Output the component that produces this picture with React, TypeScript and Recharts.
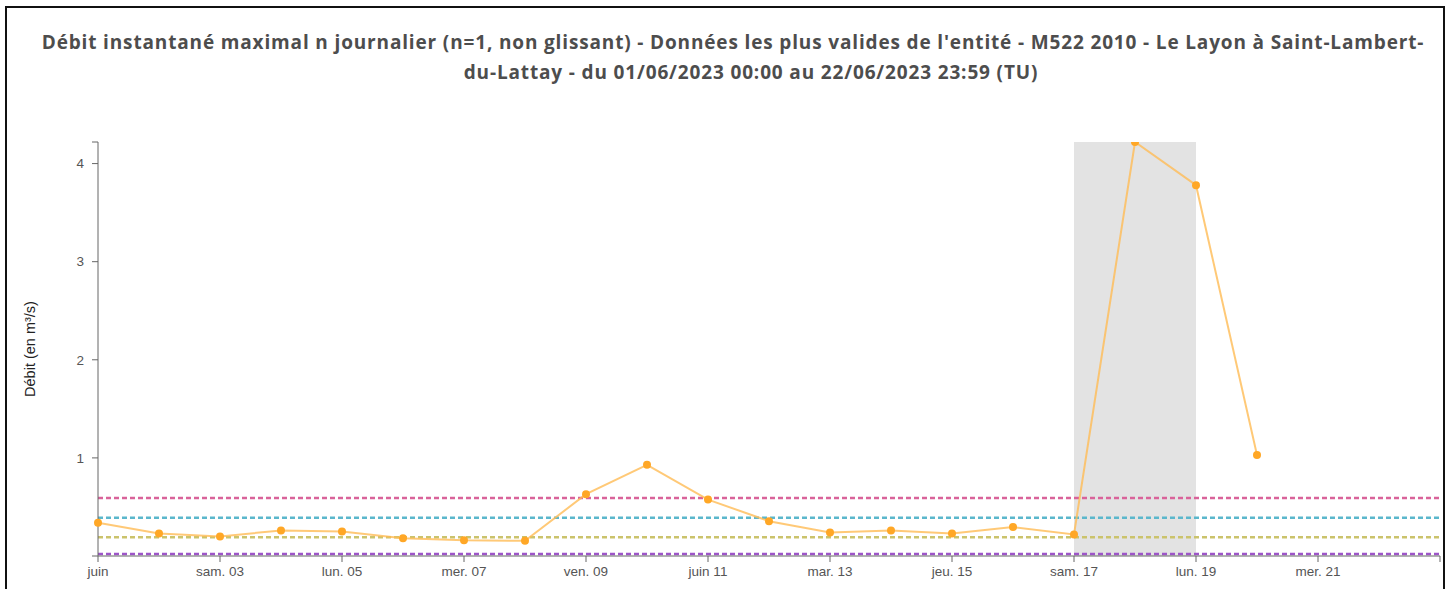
import * as React from "react";
import {
  Line,
  LineChart,
  ReferenceArea,
  ReferenceLine,
  XAxis,
  YAxis,
} from "recharts";

// jours de juin 2023 (00:00 TU)
const days = [1, 2, 3, 4, 5, 6, 7, 8, 9, 10, 11, 12, 13, 14, 15, 16, 17, 18, 19, 20];
// débit instantané maximal journalier (m3/s)
const debits = [
  0.34, 0.23, 0.2, 0.26, 0.25, 0.18, 0.16, 0.155, 0.63, 0.93, 0.575, 0.355, 0.24,
  0.26, 0.23, 0.295, 0.22, 4.22, 3.78, 1.03,
];

// la dernière graduation (23) est le bout de l'axe, sans libellé
const tickDays = [1, 3, 5, 7, 9, 11, 13, 15, 17, 19, 21, 23];
const tickLabels = [
  "juin",
  "sam. 03",
  "lun. 05",
  "mer. 07",
  "ven. 09",
  "juin 11",
  "mar. 13",
  "jeu. 15",
  "sam. 17",
  "lun. 19",
  "mer. 21",
  "",
];
const yMax = 4.22;
const yTicks = [0, 1, 2, 3, 4, yMax];

// seuils
const seuils = [
  { value: 0.59, color: "#d9639a" },
  { value: 0.39, color: "#5bb7cc" },
  { value: 0.19, color: "#cbc36c" },
  { value: 0.02, color: "#9d55c8" },
];

const zone = { from: 17, to: 19 };

const titleLines = [
  "Débit instantané maximal n journalier (n=1, non glissant) - Données les plus valides de l'entité - M522 2010 - Le Layon à Saint-Lambert-",
  "du-Lattay - du 01/06/2023 00:00 au 22/06/2023 23:59 (TU)",
];

const ts = (d: number) => Date.UTC(2023, 5, d);

const data = days.map((d, i) => ({ t: ts(d), q: debits[i] }));

const labelFor = (t: number) => {
  const i = tickDays.findIndex((d) => ts(d) === t);
  return i >= 0 ? tickLabels[i] : "";
};

const titleStyle: React.CSSProperties = {
  position: "absolute",
  width: 1500,
  textAlign: "center",
  fontFamily: "'Open Sans', sans-serif",
  fontWeight: 700,
  fontSize: 19,
  letterSpacing: 0.85,
  lineHeight: "24px",
  color: "#4d4d4d",
  whiteSpace: "nowrap",
};

export default function App() {
  return (
    <div
      style={{
        position: "absolute",
        left: 0,
        top: 0,
        width: 1453,
        height: 589,
        overflow: "hidden",
        background: "#fff",
      }}
    >
      <div
        style={{
          position: "absolute",
          left: 5,
          top: 6,
          width: 1436,
          height: 700,
          border: "2px solid #111",
        }}
      />
      <div style={{ ...titleStyle, left: 733 - 750, top: 30 }}>{titleLines[0]}</div>
      <div style={{ ...titleStyle, left: 751 - 750, top: 60 }}>{titleLines[1]}</div>
      <div style={{ position: "absolute", left: 0, top: 0 }}>
        <LineChart
          width={1453}
          height={620}
          data={data}
          margin={{ top: 142, right: 13, bottom: 0, left: 0 }}
          style={{ fontFamily: "'Liberation Sans', Arial, sans-serif" }}
        >
          <ReferenceArea
            x1={ts(zone.from)}
            x2={ts(zone.to)}
            fill="#e3e3e3"
            fillOpacity={1}
            stroke="none"
            ifOverflow="visible"
          />
          {seuils.map((s) => (
            <ReferenceLine
              key={s.value}
              y={s.value}
              stroke={s.color}
              strokeWidth={2.5}
              strokeDasharray="5 3"
            />
          ))}
          <XAxis
            dataKey="t"
            type="number"
            domain={[ts(1), ts(23)]}
            ticks={tickDays.map(ts)}
            tickFormatter={labelFor}
            height={64}
            stroke="#666"
            tickSize={6}
            tickMargin={4}
            tick={{ fill: "#555", fontSize: 13.5 }}
            interval={0}
            label={{
              value: "Date (TU)",
              position: "insideBottom",
              offset: 18,
              fill: "#333",
              fontSize: 13.5,
            }}
          />
          <YAxis
            type="number"
            domain={[0, yMax]}
            ticks={yTicks}
            tickFormatter={(v: number) => (v === 0 || v === yMax ? "" : String(v))}
            width={98}
            stroke="#666"
            tickSize={6}
            tickMargin={8}
            tick={{ fill: "#555", fontSize: 13.5 }}
            interval={0}
            allowDataOverflow
            label={{
              value: "Débit (en m³/s)",
              angle: -90,
              position: "center",
              dx: -19,
              fill: "#222",
              fontSize: 14.5,
            }}
          />
          <Line
            type="linear"
            dataKey="q"
            stroke="#ffbb55"
            strokeOpacity={0.8}
            strokeWidth={2}
            dot={{ r: 4, fill: "#ffa726", stroke: "none", fillOpacity: 1 }}
            activeDot={false}
            isAnimationActive={false}
          />
        </LineChart>
      </div>
    </div>
  );
}
